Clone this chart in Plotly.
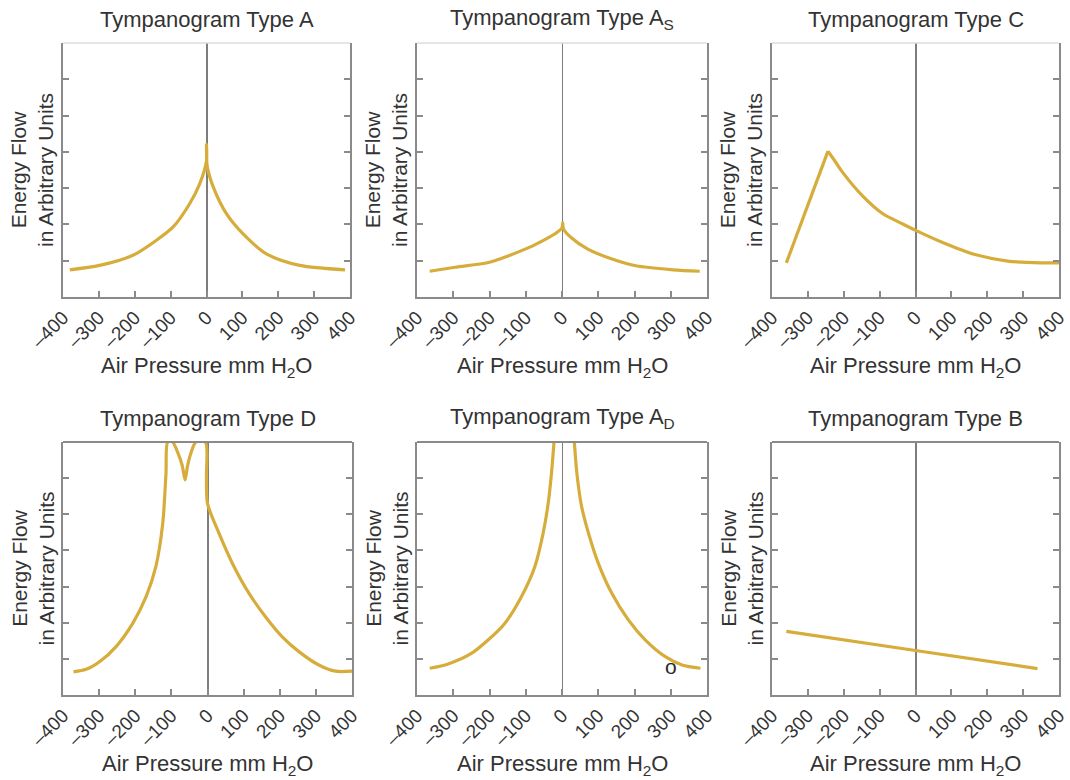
import plotly.graph_objects as go

# ---------------- data ----------------
titles = ["Tympanogram Type A", "Tympanogram Type A<sub>S</sub>", "Tympanogram Type C",
          "Tympanogram Type D", "Tympanogram Type A<sub>D</sub>", "Tympanogram Type B"]

x_ticks = [-400, -300, -200, -100, 0, 100, 200, 300, 400]
x_ticktext = ["\u2013400", "\u2013300", "\u2013200", "\u2013100", "0", "100", "200", "300", "400"]
y_ticks = [1, 2, 3, 4, 5, 6]

typeA_x = [-381, -298, -205, -140, -93, -47, -19, 0, 0, 2, 19, 56, 102, 167, 260, 386]
typeA_y = [0.75, 0.87, 1.15, 1.56, 1.93, 2.57, 3.12, 3.75, 4.2, 3.6, 3.03, 2.29, 1.74, 1.19, 0.87, 0.75]

typeAS_x = [-365, -295, -203, -147, -92, -46, -18, 0, 2, 4, 25, 71, 126, 204, 306, 380]
typeAS_y = [0.71, 0.82, 0.95, 1.14, 1.36, 1.59, 1.75, 1.9, 2.05, 1.88, 1.64, 1.32, 1.09, 0.86, 0.75, 0.71]

typeC_rise_x = [-360, -244]
typeC_rise_y = [0.94, 4.02]
typeC_fall_x = [-244, -220, -202, -147, -92, -37, 2, 74, 166, 257, 349, 400]
typeC_fall_y = [4.02, 3.68, 3.42, 2.78, 2.30, 2.02, 1.83, 1.51, 1.17, 0.99, 0.94, 0.94]

typeD_x = [-371, -336, -299, -253, -207, -170, -143, -124, -115, -110, -97, -82, -70, -62, -55, -44, -32,
           -6, -3, 0, 32, 69, 115, 161, 207, 253, 308, 354, 400]
typeD_y = [0.64, 0.71, 0.92, 1.34, 1.98, 2.72, 3.55, 4.74, 6.12, 7.0, 7.0, 6.7, 6.35, 5.95, 6.35, 6.75, 7.0,
           7.0, 6.0, 5.3, 4.47, 3.64, 2.81, 2.16, 1.61, 1.2, 0.83, 0.66, 0.66]

typeAD_left_x = [-365, -314, -250, -204, -158, -112, -75, -52, -38, -29, -22]
typeAD_left_y = [0.74, 0.86, 1.15, 1.52, 1.98, 2.72, 3.55, 4.48, 5.31, 6.14, 7.0]
typeAD_right_x = [34, 41, 54, 73, 100, 137, 183, 230, 285, 331, 382]
typeAD_right_y = [7.0, 6.14, 5.22, 4.48, 3.65, 2.82, 2.08, 1.52, 1.06, 0.83, 0.74]

typeB_x = [-360, 0, 340]
typeB_y = [1.76, 1.23, 0.73]

# ---------------- styling / layout ----------------
W, H = 1070, 780
LINE = "#D6AC3A"
AXC = "#8a8a8a"
TXT = "#333333"
FONT = "Liberation Sans, Arial, sans-serif"
TSIZE = 22

# panel pixel boxes: (left, right, top, bottom)
boxes = [(63, 350, 43, 297), (417, 707, 43, 297), (772, 1059, 43, 297),
         (63, 352, 442, 695), (417, 707, 442, 695), (772, 1059, 442, 695)]
zero_w = [2, 1, 2, 2, 1, 2]

series = [
    [(typeA_x, typeA_y)],
    [(typeAS_x, typeAS_y)],
    [(typeC_rise_x, typeC_rise_y), (typeC_fall_x, typeC_fall_y)],
    [(typeD_x, typeD_y)],
    [(typeAD_left_x, typeAD_left_y), (typeAD_right_x, typeAD_right_y)],
    [(typeB_x, typeB_y)],
]

fig = go.Figure()
layout = dict(width=W, height=H, margin=dict(l=0, r=0, t=0, b=0, pad=0, autoexpand=False),
              paper_bgcolor="white", plot_bgcolor="white", showlegend=False,
              font=dict(family=FONT, color=TXT))
annotations = []
shapes = []

for i, (l, r, t, b) in enumerate(boxes):
    k = "" if i == 0 else str(i + 1)
    xd = [l / W, r / W]
    yd = [1 - b / H, 1 - t / H]
    layout["xaxis" + k] = dict(
        domain=xd, range=[-400, 400], anchor="y" + k, automargin=False,
        tickvals=x_ticks, ticktext=x_ticktext, tickangle=-45, ticklabeloverflow="allow",
        ticks="inside", ticklen=6, tickcolor=AXC, tickwidth=1.5,
        showline=True, linecolor=AXC, linewidth=2, mirror=False,
        showgrid=False, zeroline=True, zerolinecolor="#7d7d7d", zerolinewidth=zero_w[i],
        tickfont=dict(size=19, color=TXT, family=FONT), fixedrange=True)
    layout["yaxis" + k] = dict(
        domain=yd, range=[0, 7], anchor="x" + k, automargin=False,
        tickvals=y_ticks, showticklabels=False,
        ticks="inside", ticklen=6, tickcolor=AXC, tickwidth=1.5,
        showline=True, linecolor=AXC, linewidth=2, mirror="ticks",
        showgrid=False, zeroline=False, fixedrange=True)
    # top border of the frame
    shapes.append(dict(type="line", xref="x" + k + " domain", yref="y" + k + " domain",
                       x0=0, x1=1, y0=1, y1=1,
                       line=dict(color="#dddddd" if i < 3 else AXC, width=1.5 if i < 3 else 2)))
    for xs, ys in series[i]:
        fig.add_trace(go.Scatter(x=xs, y=ys, mode="lines", xaxis="x" + k, yaxis="y" + k,
                                 line=dict(color=LINE, width=3.2, shape="spline", smoothing=0.8),
                                 hoverinfo="skip"))
    cx = (l + r) / 2 / W
    # panel title
    annotations.append(dict(text=titles[i], xref="paper", yref="paper",
                            x=cx, y=1 - (t - 24) / H, xanchor="center", yanchor="middle",
                            showarrow=False, font=dict(size=TSIZE, color=TXT, family=FONT)))
    # x-axis title
    annotations.append(dict(text="Air Pressure mm H<sub>2</sub>O", xref="paper", yref="paper",
                            x=cx, y=1 - (b + 70) / H, xanchor="center", yanchor="middle",
                            showarrow=False, font=dict(size=TSIZE, color=TXT, family=FONT)))
    # y-axis title
    annotations.append(dict(text="Energy Flow<br>in Arbitrary Units", xref="paper", yref="paper",
                            x=(l - 31) / W, y=1 - ((t + b) / 2) / H, xanchor="center", yanchor="middle",
                            textangle=-90, showarrow=False,
                            font=dict(size=21, color=TXT, family=FONT)))

# small "o" mark in Type A_D panel
annotations.append(dict(text="o", xref="x5", yref="y5", x=300, y=0.78, showarrow=False,
                        font=dict(size=21, color="#2a2a2a", family=FONT)))

layout["annotations"] = annotations
layout["shapes"] = shapes
fig.update_layout(**layout)
fig.write_html("out.html", config={"displayModeBar": False},
               post_script="document.body.style.margin='0';")
